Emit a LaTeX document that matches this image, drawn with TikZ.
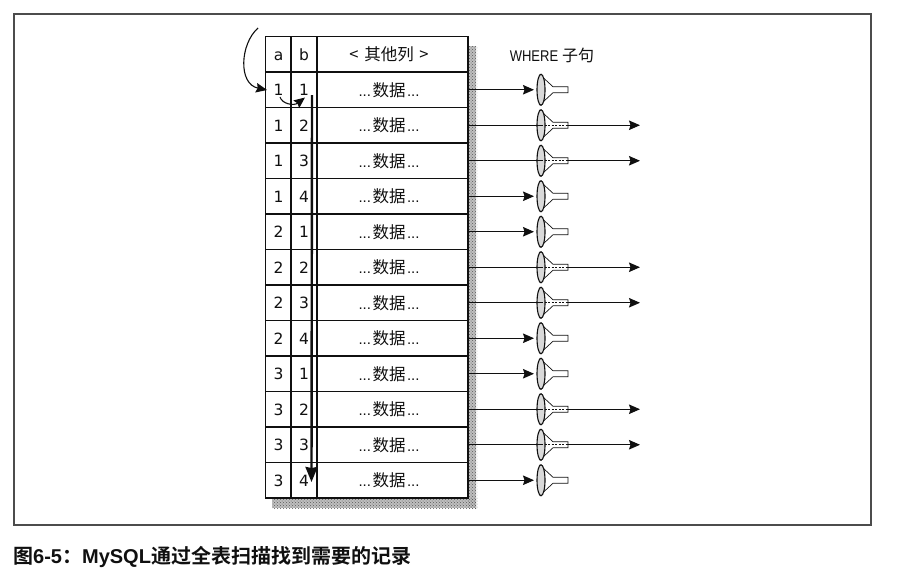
\documentclass[tikz,border=0pt]{standalone}
\usepackage{fontspec}
\setmainfont{DejaVu Sans}
\newfontfamily\cjk{Noto Sans CJK SC}
\newfontfamily\cjkb{Noto Sans CJK SC Bold}
\newfontfamily\capl{Liberation Sans Bold}
\newfontfamily\lat{Liberation Sans}
\usetikzlibrary{arrows.meta,patterns,shapes.geometric}
\definecolor{ink}{HTML}{101010}
\tikzset{
  cellbox/.style={draw=ink,line width=1.15pt,inner sep=0pt,outer sep=0pt,minimum height=35.5pt,text=ink,font=\fontsize{15.5}{15.5}\selectfont},
  nar/.style={cellbox,minimum width=26pt,text height=11.5pt,text depth=0pt},
  wid/.style={cellbox,minimum width=151pt},
  mouth/.style={ellipse,draw=ink,line width=1.1pt,fill=gray!30,minimum width=8pt,minimum height=31pt,inner sep=0pt,outer sep=0pt},
  cone/.style={draw=ink,line width=.7pt,fill=white},
  flow/.style={draw=ink,line width=1pt},
  tip/.style={-{Stealth[length=11pt,width=9.5pt,inset=1.5pt]}},
  stipple/.style={draw=none,fill=gray!50},
  stipdots/.style={draw=none,pattern=crosshatch dots,pattern color=gray!70!black},
}
\newcommand{\data}{\hspace{-7pt}{\fontsize{15}{15}\selectfont\lat ...}\hspace{1.5pt}{\cjk\fontsize{16.5}{16.5}\selectfont 数据}\hspace{1.5pt}{\fontsize{15}{15}\selectfont\lat ...}}
\begin{document}
\begin{tikzpicture}[x=1pt,y=-1pt]
\useasboundingbox[fill=white] (0,0) rectangle (917,579);
% shadow
\fill[stipple] (468,46) rectangle (476,508);
\fill[stipple] (272,498) rectangle (476,508);
\fill[stipdots] (468,46) rectangle (477,508);
\fill[stipdots] (272,498) rectangle (477,508);
% frame
\node[draw=ink!75,line width=1.2pt,inner sep=0pt,outer sep=0pt,minimum width=857pt,minimum height=511pt] (frame) at (442.5,269.5) {};
% header
\node[nar] (ha) at (278.5,54.5) {a};
\node[nar] (hb) at (304,54.5) {b};
\node[wid,font=\cjk\fontsize{16.5}{16.5}\selectfont] (hc) at (392.5,54.5) {\hspace{-7pt}<\hspace{2pt} 其他列 \hspace{2pt}>};
% rows
\foreach \i/\a/\b/\pass in {1/1/1/0,2/1/2/1,3/1/3/1,4/1/4/0,5/2/1/0,6/2/2/1,7/2/3/1,8/2/4/0,9/3/1/0,10/3/2/1,11/3/3/1,12/3/4/0}{
  \pgfmathsetmacro{\yy}{89.75+35.5*(\i-1)}
  \node[nar] (a\i) at (278.5,\yy) {\a};
  \node[nar] (b\i) at (304,\yy) {\b};
  \node[wid] (r\i) at (392.5,\yy) {\data};
  \begin{scope}[shift={(541,\yy)}]
    \draw[cone] (-1,-15) -- (12,-3) -- (27,-3) -- (27,3) -- (12,3) -- (-1,15) -- cycle;
    \node[mouth] (f\i) at (0,0) {};
    \coordinate (s\i) at (27,0);
    \coordinate (e\i) at (99,0);
    \coordinate (n\i) at (-7,0);
  \end{scope}
  \ifnum\pass=1
    \draw[flow] (r\i.east) -- (f\i.center);
    \draw[flow,dash pattern=on 2pt off 1.5pt] (f\i.center) -- (s\i);
    \draw[flow,tip] (s\i) -- (e\i);
  \else
    \draw[flow,tip] (r\i.east) -- (n\i);
  \fi
}
% heading
\node[text=ink,inner sep=0pt] (where) at (552,55.5) {\lat\fontsize{15.5}{15.5}\selectfont\scalebox{.84}[1]{WHERE}\hspace{4pt}\cjk\fontsize{16}{16}\selectfont 子句};
% scan arrows
\coordinate (c0) at (258,28);
\coordinate (c1) at (267,90);
\draw[draw=ink,line width=1.1pt,tip] (c0) .. controls (240,44) and (238,84) .. (c1);
\coordinate (d0) at (280,97);
\coordinate (d1) at (305,97.5);
\draw[draw=ink,line width=1.1pt,tip] (d0) .. controls (282,104) and (294,106) .. (d1);
\coordinate (v0) at (312,95);
\coordinate (v1) at (311.5,482);
\draw[draw=ink,line width=2.4pt,-{Stealth[length=15pt,width=12pt,inset=1pt]}] (v0) -- (v1);
% caption
\node[anchor=west,text=ink,inner sep=0pt] (cap) at (13,556.5) {\cjkb\fontsize{20}{20}\selectfont 图{\capl 6-5}：{\capl MySQL}通过全表扫描找到需要的记录};
\end{tikzpicture}
\end{document}
